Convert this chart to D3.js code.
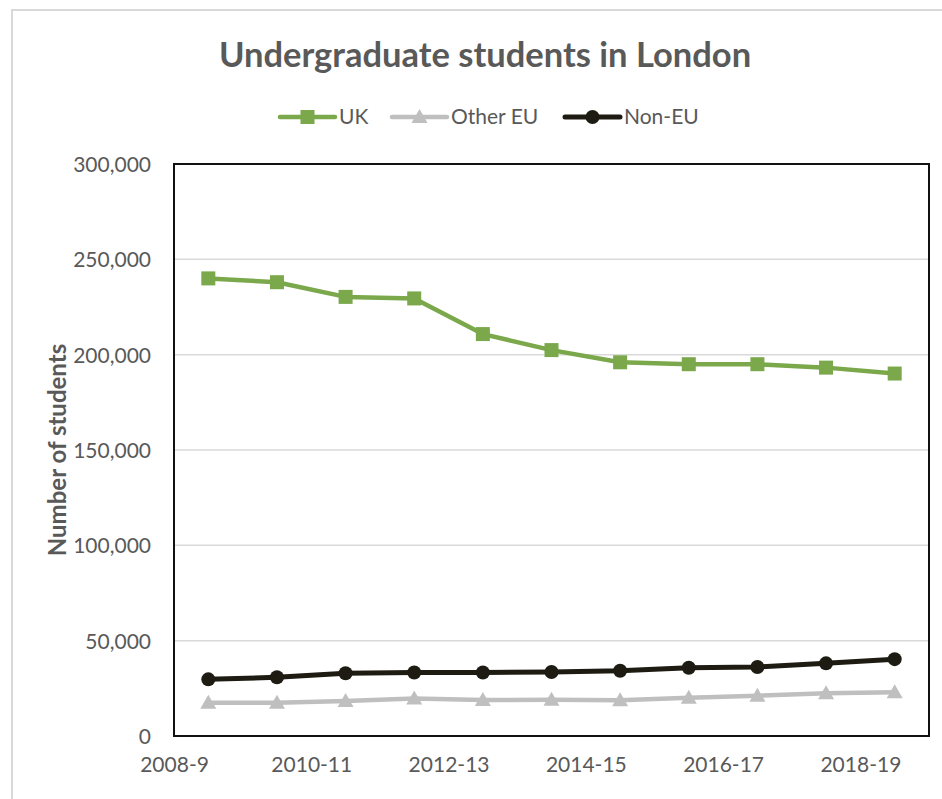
<!DOCTYPE html>
<html><head><meta charset="utf-8">
<script src="https://cdn.jsdelivr.net/npm/d3@7"></script>
<style>body{margin:0;background:#fff}svg{display:block}text{font-family:Lato,"Open Sans",sans-serif}</style>
</head><body>
<svg id="c" width="942" height="799"></svg>
<script>
const categories = ["2008-9","2009-10","2010-11","2011-12","2012-13","2013-14","2014-15","2015-16","2016-17","2017-18","2018-19"];
const ukValues = [240000,238000,230300,229500,210800,202400,196000,195000,195000,193200,190100];
const otherEuValues = [17500,17500,18400,19700,18900,19000,18800,20100,21100,22400,22900];
const nonEuValues = [29700,30800,32900,33300,33300,33600,34200,35800,36200,38100,40300];
const yTicks = [0,50000,100000,150000,200000,250000,300000];
const xLabelCats = ["2008-9","2010-11","2012-13","2014-15","2016-17","2018-19"];

const series = [
  {name:"UK", values:ukValues, color:"#7aa84b", marker:"square", width:4.5},
  {name:"Other EU", values:otherEuValues, color:"#bfbfbf", marker:"triangle", width:4.5},
  {name:"Non-EU", values:nonEuValues, color:"#1d1b12", marker:"circle", width:5}
];

const svg = d3.select("#c");
const m = {left:174, top:164, right:929, bottom:736};
const grey = "#595959";
const fs = 21;

// outer chart border
svg.append("rect").attr("x",12).attr("y",10).attr("width",960).attr("height",820)
  .attr("fill","none").attr("stroke","#d9d9d9").attr("stroke-width",2);

const x = d3.scaleBand().domain(categories).range([m.left,m.right]).padding(0);
const y = d3.scaleLinear().domain([0,300000]).range([m.bottom,m.top]);

// gridlines
svg.append("g").selectAll("line").data(yTicks.filter(d=>d>0)).join("line")
  .attr("x1",m.left).attr("x2",m.right).attr("y1",d=>y(d)).attr("y2",d=>y(d))
  .attr("stroke","#d9d9d9").attr("stroke-width",1.5);

// y axis labels
const yAxis = d3.axisLeft(y).tickValues(yTicks).tickSize(0).tickPadding(0)
  .tickFormat(d3.format(","));
svg.append("g").attr("transform",`translate(${m.left-23},0)`).call(yAxis)
  .call(g=>g.select(".domain").remove())
  .call(g=>g.selectAll("text").attr("fill",grey).attr("font-size",fs).attr("dy","0.35em")
    .attr("font-family","Lato,'Open Sans',sans-serif"));

// x axis labels at left boundary of category band
const xAxis = d3.axisBottom(d3.scalePoint().domain(categories).range([m.left, m.left + x.step()*(categories.length-1)]))
  .tickValues(xLabelCats).tickSize(0).tickPadding(0);
svg.append("g").attr("transform",`translate(0,${m.bottom+21})`).call(xAxis)
  .call(g=>g.select(".domain").remove())
  .call(g=>g.selectAll("text").attr("fill",grey).attr("font-size",fs).attr("dy","0.71em")
    .attr("font-family","Lato,'Open Sans',sans-serif"));

// lines
const line = d3.line().x((d,i)=>x(categories[i])+x.bandwidth()/2).y(d=>y(d));
function drawMarker(g, type, color, cx, cy){
  if(type==="square") g.append("rect").attr("x",cx-7).attr("y",cy-7).attr("width",14).attr("height",14).attr("fill",color);
  else if(type==="circle") g.append("circle").attr("cx",cx).attr("cy",cy).attr("r",7).attr("fill",color);
  else g.append("path").attr("d",`M${cx},${cy-8}L${cx+8},${cy+6}L${cx-8},${cy+6}Z`).attr("fill",color);
}
series.forEach(s=>{
  const g = svg.append("g");
  g.append("path").datum(s.values).attr("d",line).attr("fill","none")
    .attr("stroke",s.color).attr("stroke-width",s.width).attr("stroke-linejoin","round").attr("stroke-linecap","round");
  s.values.forEach((v,i)=>drawMarker(g,s.marker,s.color,x(categories[i])+x.bandwidth()/2,y(v)));
});

// plot border
svg.append("rect").attr("x",m.left).attr("y",m.top).attr("width",m.right-m.left).attr("height",m.bottom-m.top)
  .attr("fill","none").attr("stroke","#111").attr("stroke-width",2);

// title
svg.append("text").attr("x",485).attr("y",67).attr("text-anchor","middle")
  .attr("font-size",34.5).attr("font-weight","bold").attr("fill",grey).text("Undergraduate students in London");

// y axis title
svg.append("text").attr("transform","translate(58,450) rotate(-90)").attr("text-anchor","middle")
  .attr("dy","0.35em").attr("font-size",24).attr("font-weight","bold").attr("fill",grey).text("Number of students");

// legend
const legX = [280,392,565];
series.forEach((s,i)=>{
  const g = svg.append("g");
  const lx = legX[i], ly = 117;
  g.append("line").attr("x1",lx).attr("x2",lx+55).attr("y1",ly).attr("y2",ly)
    .attr("stroke",s.color).attr("stroke-width",s.width).attr("stroke-linecap","round");
  drawMarker(g,s.marker,s.color,lx+27.5,ly);
  g.append("text").attr("x",lx+59).attr("y",ly).attr("dy","0.35em").attr("font-size",fs)
    .attr("fill",grey).text(s.name);
});
</script>
</body></html>
